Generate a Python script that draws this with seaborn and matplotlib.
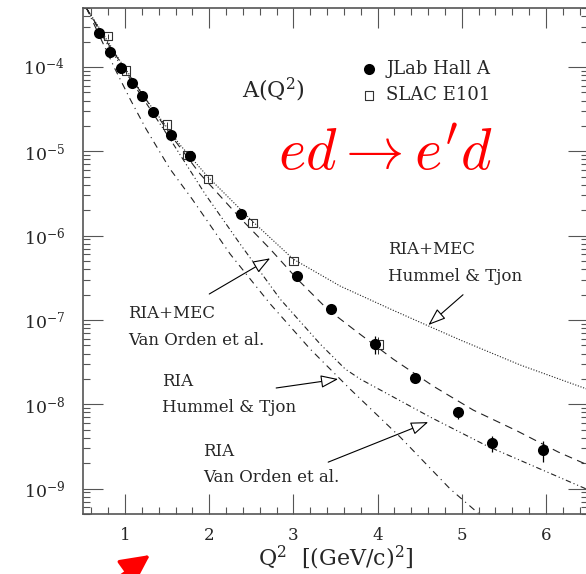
import numpy as np
import pandas as pd
import matplotlib
matplotlib.use("Agg")
import matplotlib.pyplot as plt
import matplotlib.ticker as mticker
from matplotlib.patches import FancyArrowPatch
import seaborn as sns

# JLab Hall A points (Q^2 in (GeV/c)^2, A)
jlab_q2 = [0.69, 0.82, 0.95, 1.08, 1.205, 1.33, 1.546, 1.776, 2.375, 3.04, 3.45, 3.97, 4.45, 4.96, 5.36, 5.97]
jlab_a = [2.55e-4, 1.52e-4, 9.65e-5, 6.5e-5, 4.5e-5, 2.95e-5, 1.57e-5, 8.7e-6,
          1.8e-6, 3.3e-7, 1.35e-7, 5.2e-8, 2.04e-8, 8.0e-9, 3.47e-9, 2.86e-9]
jlab_err = [5e-6, 3e-6, 2e-6, 1.3e-6, 9e-7, 6e-7, 3e-7, 2e-7,
            4e-8, 1e-8, 5e-9, 1.2e-8, 1.5e-9, 1.3e-9, 0.75e-9, 0.8e-9]

# SLAC E101 points
slac_q2 = [0.794, 1.008, 1.5, 1.74, 1.986, 2.513, 3.0, 4.01]
slac_a = [2.31e-4, 9.04e-5, 2.07e-5, 9.1e-6, 4.69e-6, 1.41e-6, 5.0e-7, 5.1e-8]
slac_err = [1.8e-5, 7e-6, 1.6e-6, 7e-7, 3.6e-7, 1.1e-7, 4e-8, 1.2e-8]

# theory curves
mec_ht_q2 = [0.54, 0.702, 0.94, 1.297, 1.653, 1.986, 2.51, 2.997, 3.556, 4.15, 4.602, 4.983, 5.696, 6.5]
mec_ht_a = [5.0e-4, 2.82e-4, 1.18e-4, 3.54e-5, 1.19e-5, 4.95e-6, 1.49e-6, 5.27e-7,
            2.52e-7, 1.35e-7, 8.5e-8, 5.78e-8, 2.92e-8, 1.5e-8]

mec_vo_q2 = [0.54, 0.821, 1.178, 1.534, 1.891, 2.379, 2.724, 3.045, 3.401, 3.758,
             4.186, 4.662, 5.137, 5.661, 6.148, 6.5]
mec_vo_a = [5.0e-4, 1.73e-4, 5.19e-5, 1.6e-5, 5.38e-6, 1.57e-6, 6.93e-7, 3.06e-7,
            1.35e-7, 7.18e-8, 3.43e-8, 1.64e-8, 8.53e-9, 4.81e-9, 2.71e-9, 1.9e-9]

ria_ht_q2 = [0.54, 0.702, 0.88, 1.059, 1.249, 1.534, 1.796, 2.248, 2.724, 3.199,
             3.675, 4.269, 4.864, 5.197, 5.34]
ria_ht_a = [5.0e-4, 2.27e-4, 9.47e-5, 4.17e-5, 1.84e-5, 6.17e-6, 2.72e-6, 6.05e-7,
            1.55e-7, 4.52e-8, 1.51e-8, 4.08e-9, 9.87e-10, 5.1e-10, 3.7e-10]

ria_vo_q2 = [0.54, 0.821, 1.178, 1.534, 1.951, 2.367, 2.842, 3.318, 3.615, 3.794,
             4.234, 4.626, 5.304, 6.5]
ria_vo_a = [5.0e-4, 1.64e-4, 4.79e-5, 1.4e-5, 3.11e-6, 7.94e-7, 1.77e-7, 5.18e-8,
            2.62e-8, 1.99e-8, 1.15e-8, 7.05e-9, 3.19e-9, 9.7e-10]

y_major = [1e-9, 1e-8, 1e-7, 1e-6, 1e-5, 1e-4]

sns.set_style("ticks")
plt.rcParams["font.family"] = ["DejaVu Serif"]
plt.rcParams["mathtext.fontset"] = "dejavuserif"

fig = plt.figure(figsize=(5.86, 5.74), dpi=100)
ax = fig.add_axes([83 / 586, 1 - 514 / 574, 505 / 586, 506 / 574])
ax.set_yscale("log")

curves = [
    (mec_ht_q2, mec_ht_a, (0, (1, 1.5))),
    (mec_vo_q2, mec_vo_a, (0, (7, 5))),
    (ria_ht_q2, ria_ht_a, (0, (6, 4, 1, 4))),
    (ria_vo_q2, ria_vo_a, (0, (5, 2.5, 1, 2.5, 1, 2.5))),
]
for q, a, ls in curves:
    df = pd.DataFrame({"q2": q, "a": a})
    sns.lineplot(data=df, x="q2", y="a", sort=False, estimator=None, ax=ax,
                 color="#222222", lw=0.8, linestyle=ls)

ax.errorbar(jlab_q2, jlab_a, yerr=jlab_err, fmt="none", ecolor="black", elinewidth=0.9, capsize=0)
ax.errorbar(slac_q2, slac_a, yerr=slac_err, fmt="none", ecolor="#333333", elinewidth=0.7, capsize=0)

jlab = pd.DataFrame({"q2": jlab_q2, "a": jlab_a})
slac = pd.DataFrame({"q2": slac_q2, "a": slac_a})
sns.scatterplot(data=jlab, x="q2", y="a", ax=ax, marker="o", s=64, color="black",
                edgecolor="black", linewidth=0, label="JLab Hall A", zorder=5)
sns.scatterplot(data=slac, x="q2", y="a", ax=ax, marker="s", s=36, facecolor="none",
                edgecolor="#333333", linewidth=0.8, label="SLAC E101", zorder=4)

ax.set_xlim(0.5, 6.5)
ax.set_ylim(5e-10, 5e-4)

ax.xaxis.set_major_locator(mticker.FixedLocator([1, 2, 3, 4, 5, 6]))
ax.xaxis.set_minor_locator(mticker.MultipleLocator(0.2))
ax.yaxis.set_major_locator(mticker.FixedLocator(y_major))
ax.yaxis.set_major_formatter(mticker.LogFormatterMathtext())
ax.yaxis.set_minor_locator(mticker.LogLocator(base=10, subs=np.arange(2, 10), numticks=20))
ax.yaxis.set_minor_formatter(mticker.NullFormatter())
ax.tick_params(which="both", direction="in", top=True, right=True, color="#555555", width=0.8)
ax.tick_params(which="major", length=14.5)
ax.tick_params(which="minor", length=5)
ax.tick_params(axis="y", which="major", pad=13, labelsize=12.5)
ax.tick_params(axis="x", which="major", pad=9, labelsize=12)
for sp in ax.spines.values():
    sp.set_color("#555555")
    sp.set_linewidth(1.2)

ax.set_xlabel(r"Q$^2$  [(GeV/c)$^2$]", fontsize=16, labelpad=0)
ax.set_ylabel("")

ax.legend(loc="upper left", bbox_to_anchor=(0.552, 0.897), frameon=False, fontsize=13,
          handlelength=0.8, handletextpad=0.55, borderpad=0, borderaxespad=0, labelspacing=0.45)

ax.text(2.39, 5.34e-5, r"A(Q$^2$)", fontsize=16, ha="left", va="center")
ax.text(4.085, 9.3e-6, r"$ed \rightarrow e^{\prime}d$", color="red", fontsize=42,
        ha="center", va="center", math_fontfamily="cm")

tkw = dict(fontsize=12, ha="left", va="center", linespacing=1.7)
ax.text(4.127, 4.73e-7, "RIA+MEC\nHummel & Tjon", **tkw)
ax.text(1.035, 8.24e-8, "RIA+MEC\nVan Orden et al.", **tkw)
ax.text(1.439, 1.32e-8, "RIA\nHummel & Tjon", **tkw)
ax.text(1.927, 1.95e-9, "RIA\nVan Orden et al.", **tkw)

akw = dict(arrowstyle="-|>,head_length=0.6,head_width=0.22", fc="white", ec="black",
           lw=0.8, mutation_scale=18, shrinkA=0, shrinkB=0)
ax.annotate("", xy=(4.603, 8.7e-8), xytext=(5.015, 1.99e-7), arrowprops=akw)
ax.annotate("", xy=(2.724, 5.38e-7), xytext=(2.0, 2.03e-7), arrowprops=akw)
ax.annotate("", xy=(3.532, 1.99e-8), xytext=(2.795, 1.56e-8), arrowprops=akw)
ax.annotate("", xy=(4.602, 6.15e-9), xytext=(3.413, 2.06e-9), arrowprops=akw)

# red pointer at the bottom edge
red_arrow = FancyArrowPatch((118 / 586, -4 / 574), (150 / 586, 19 / 574),
                            transform=fig.transFigure, color="red", lw=2.5,
                            arrowstyle="-|>,head_length=0.9,head_width=0.45",
                            mutation_scale=20, shrinkA=0, shrinkB=0)
fig.add_artist(red_arrow)

fig.savefig("out.png", dpi=100)
